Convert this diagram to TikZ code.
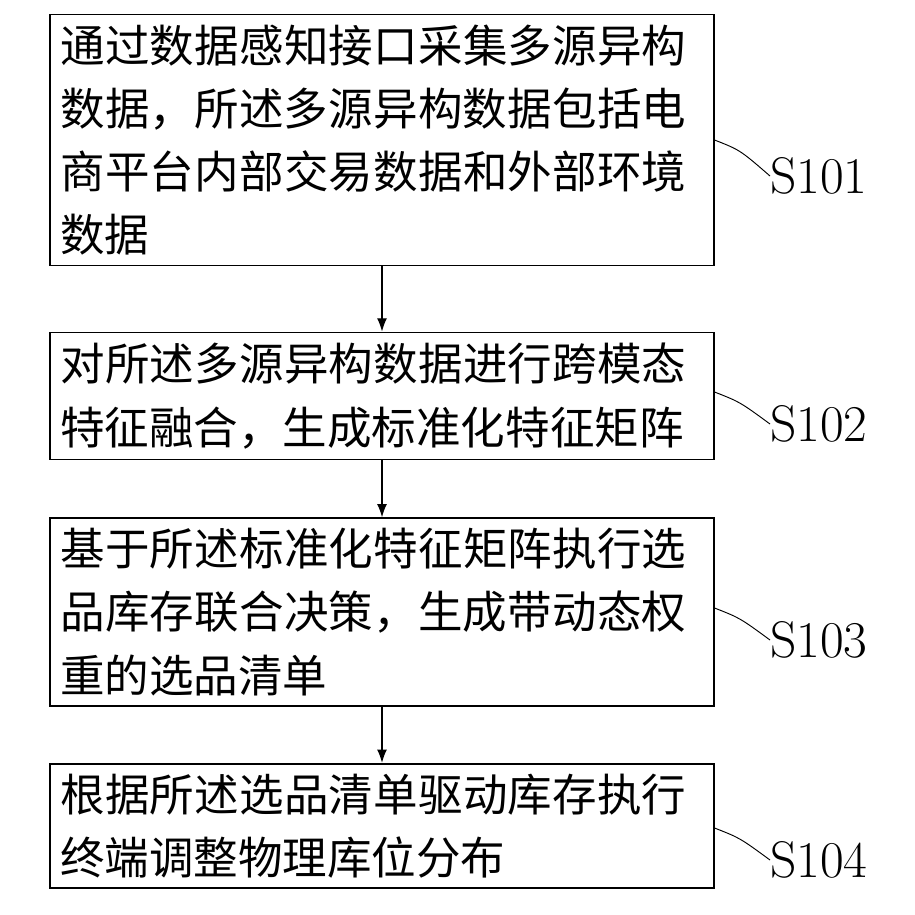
\documentclass[tikz,border=0pt]{standalone}
\usepackage{fontspec}
\newfontfamily\cjk{Noto Sans CJK SC}
\XeTeXlinebreaklocale "zh"
\XeTeXlinebreakskip = 0pt plus 1pt
\usetikzlibrary{positioning,arrows.meta}
\tikzset{
	every picture/.style={>={Latex[length=4mm,width=3mm]}},
	stepbox/.style={draw,line width=1.5pt,text width=19.3cm,inner sep=0.3cm,
		align=left,font=\cjk\fontsize{38}{54}\selectfont},
	steplabel/.style={font=\fontsize{44}{44}\selectfont,anchor=west,inner sep=0pt}
}
\begin{document}
\begin{tikzpicture}[x=0.03cm,y=-0.03cm]
\useasboundingbox (0,0) rectangle (915,914);
% steps
\node[stepbox,minimum height=244*0.03cm] (s1) at (382,140) {通过数据感知接口采集多源异构数据，所述多源异构数据包括电商平台内部交易数据和外部环境数据};
\node[stepbox,minimum height=127*0.03cm] (s2) at (382,396) {对所述多源异构数据进行跨模态特征融合，生成标准化特征矩阵};
\node[stepbox,minimum height=185*0.03cm] (s3) at (382,612) {基于所述标准化特征矩阵执行选品库存联合决策，生成带动态权重的选品清单};
\node[stepbox,minimum height=123*0.03cm] (s4) at (382,826) {根据所述选品清单驱动库存执行终端调整物理库位分布};
\draw[->,line width=1.2pt] (s1) -- (s2);
\draw[->,line width=1.2pt] (s2) -- (s3);
\draw[->,line width=1.2pt] (s3) -- (s4);
% labels
\node[steplabel] (l1) at (770,176) {S101};
\node[steplabel] (l2) at (770,424) {S102};
\node[steplabel] (l3) at (770,640) {S103};
\node[steplabel] (l4) at (770,860) {S104};
\draw[line width=0.8pt] (s1.east |- 0,140) .. controls (740,150) .. (l1.west);
\draw[line width=0.8pt] (s2.east |- 0,392) .. controls (740,402) .. (l2.west);
\draw[line width=0.8pt] (s3.east |- 0,608) .. controls (740,618) .. (l3.west);
\draw[line width=0.8pt] (s4.east |- 0,828) .. controls (740,838) .. (l4.west);
\end{tikzpicture}
\end{document}
